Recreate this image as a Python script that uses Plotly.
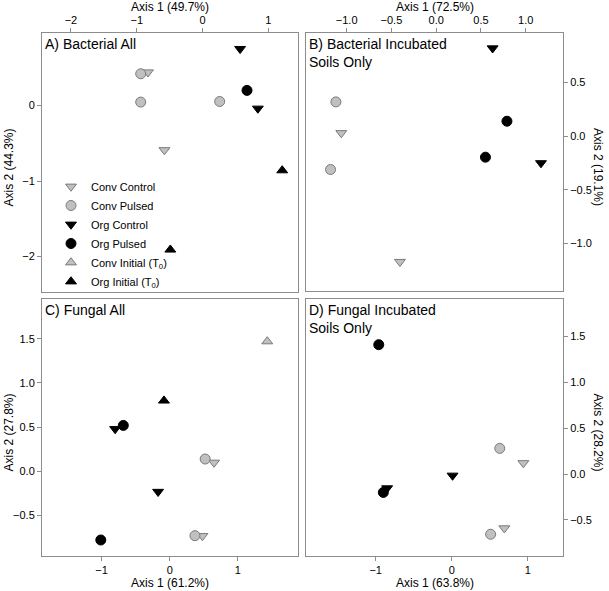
import plotly.graph_objects as go

W, H = 609, 591
FONT = "Arial, Liberation Sans, sans-serif"

# ---------------- data ----------------
# Panel A: Bacterial All
A_conv_control_x = [-0.83, -0.58]
A_conv_control_y = [0.44, -0.59]
A_conv_pulsed_x = [-0.94, -0.94, 0.26]
A_conv_pulsed_y = [0.42, 0.045, 0.053]
A_org_control_x = [0.57, 0.84]
A_org_control_y = [0.75, -0.04]
A_org_pulsed_x = [0.675]
A_org_pulsed_y = [0.20]
A_conv_initial_x = []
A_conv_initial_y = []
A_org_initial_x = [1.21, -0.49]
A_org_initial_y = [-0.86, -1.91]

# Panel B: Bacterial Incubated Soils Only
B_conv_control_x = [-1.06, -0.405]
B_conv_control_y = [0.03, -1.17]
B_conv_pulsed_x = [-1.12, -1.18]
B_conv_pulsed_y = [0.32, -0.31]
B_org_control_x = [0.63, 1.17]
B_org_control_y = [0.82, -0.25]
B_org_pulsed_x = [0.79, 0.55]
B_org_pulsed_y = [0.14, -0.195]

# Panel C: Fungal All
C_conv_control_x = [0.65, 0.48]
C_conv_control_y = [0.10, -0.73]
C_conv_pulsed_x = [0.52, 0.37]
C_conv_pulsed_y = [0.14, -0.727]
C_org_control_x = [-0.80, -0.17]
C_org_control_y = [0.48, -0.23]
C_org_pulsed_x = [-0.68, -1.01]
C_org_pulsed_y = [0.52, -0.776]
C_conv_initial_x = [1.43]
C_conv_initial_y = [1.47]
C_org_initial_x = [-0.084]
C_org_initial_y = [0.80]

# Panel D: Fungal Incubated Soils Only
D_conv_control_x = [0.94, 0.69]
D_conv_control_y = [0.12, -0.59]
D_conv_pulsed_x = [0.63, 0.51]
D_conv_pulsed_y = [0.28, -0.656]
D_org_control_x = [0.01, -0.85]
D_org_control_y = [-0.016, -0.154]
D_org_pulsed_x = [-0.96, -0.90]
D_org_pulsed_y = [1.41, -0.20]

group_names = ["Conv Control", "Conv Pulsed", "Org Control", "Org Pulsed",
               "Conv Initial (T<sub>0</sub>)", "Org Initial (T<sub>0</sub>)"]

panel_titles = ["A) Bacterial All", "B) Bacterial Incubated<br>Soils Only",
                "C) Fungal All", "D) Fungal Incubated<br>Soils Only"]
axis1_titles = ["Axis 1 (49.7%)", "Axis 1 (72.5%)", "Axis 1 (61.2%)", "Axis 1 (63.8%)"]
axis2_titles = ["Axis 2 (44.3%)", "Axis 2 (19.1%)", "Axis 2 (27.8%)", "Axis 2 (28.2%)"]

A_xticks = [-2, -1, 0, 1]
A_yticks = [-2, -1, 0]
B_xticks = [-1.0, -0.5, 0.0, 0.5, 1.0]
B_yticks = [-1.0, -0.5, 0.0, 0.5]
C_xticks = [-1, 0, 1]
C_yticks = [-0.5, 0.0, 0.5, 1.0, 1.5]
D_xticks = [-1, 0, 1]
D_yticks = [-0.5, 0.0, 0.5, 1.0, 1.5]

# ---------------- styles ----------------
GRAY_FILL = "#c0c0c0"
GRAY_LINE = "#7a7a7a"
styles = [
    dict(symbol="triangle-down", color=GRAY_FILL, line=dict(color=GRAY_LINE, width=1)),
    dict(symbol="circle", color=GRAY_FILL, line=dict(color=GRAY_LINE, width=1)),
    dict(symbol="triangle-down", color="black", line=dict(color="black", width=1)),
    dict(symbol="circle", color="black", line=dict(color="black", width=1)),
    dict(symbol="triangle-up", color=GRAY_FILL, line=dict(color=GRAY_LINE, width=1)),
    dict(symbol="triangle-up", color="black", line=dict(color="black", width=1)),
]

panels = [
    dict(data=[(A_conv_control_x, A_conv_control_y), (A_conv_pulsed_x, A_conv_pulsed_y),
               (A_org_control_x, A_org_control_y), (A_org_pulsed_x, A_org_pulsed_y),
               (A_conv_initial_x, A_conv_initial_y), (A_org_initial_x, A_org_initial_y)],
         xr=[-2.44, 1.45], yr=[-2.47, 0.96], xt=A_xticks, yt=A_yticks, xf="d", yf="d",
         xs="top", ys="left", px=(42, 298), py=(33, 292)),
    dict(data=[(B_conv_control_x, B_conv_control_y), (B_conv_pulsed_x, B_conv_pulsed_y),
               (B_org_control_x, B_org_control_y), (B_org_pulsed_x, B_org_pulsed_y),
               ([], []), ([], [])],
         xr=[-1.454, 1.416], yr=[-1.442, 0.962], xt=B_xticks, yt=B_yticks, xf=".1f", yf=".1f",
         xs="top", ys="right", px=(306, 563), py=(33, 291)),
    dict(data=[(C_conv_control_x, C_conv_control_y), (C_conv_pulsed_x, C_conv_pulsed_y),
               (C_org_control_x, C_org_control_y), (C_org_pulsed_x, C_org_pulsed_y),
               (C_conv_initial_x, C_conv_initial_y), (C_org_initial_x, C_org_initial_y)],
         xr=[-1.872, 1.881], yr=[-0.957, 1.95], xt=C_xticks, yt=C_yticks, xf="d", yf=".1f",
         xs="bottom", ys="left", px=(42, 298), py=(299, 556)),
    dict(data=[(D_conv_control_x, D_conv_control_y), (D_conv_pulsed_x, D_conv_pulsed_y),
               (D_org_control_x, D_org_control_y), (D_org_pulsed_x, D_org_pulsed_y),
               ([], []), ([], [])],
         xr=[-1.916, 1.461], yr=[-0.893, 1.908], xt=D_xticks, yt=D_yticks, xf="d", yf=".1f",
         xs="bottom", ys="right", px=(306, 563), py=(299, 556)),
]

fig = go.Figure()
annotations = []
layout = {}
shown = set()

for i, p in enumerate(panels):
    n = "" if i == 0 else str(i + 1)
    xa, ya = "x" + n, "y" + n
    for g, (xs, ys) in enumerate(p["data"]):
        if len(xs) == 0:
            continue
        showleg = g not in shown
        shown.add(g)
        fig.add_trace(go.Scatter(
            x=xs, y=ys, mode="markers", name=group_names[g], legendgroup=str(g),
            legendrank=100 + g,
            marker=dict(size=10 if styles[g]["symbol"] == "circle" else 9.5, **styles[g]),
            xaxis=xa, yaxis=ya, showlegend=showleg,
        ))
    x0, x1 = p["px"]
    y0, y1 = p["py"]
    common = dict(showline=True, mirror=True, linecolor="#8c8c8c", linewidth=1,
                  showgrid=False, zeroline=False, ticks="outside", ticklen=4,
                  tickcolor="#8c8c8c", tickwidth=1, automargin=False,
                  tickfont=dict(family=FONT, size=11, color="black"))
    layout["xaxis" + n] = dict(domain=[x0 / W, x1 / W], range=p["xr"], anchor=ya,
                               side=p["xs"], tickvals=p["xt"], tickformat=p["xf"], **common)
    layout["yaxis" + n] = dict(domain=[1 - y1 / H, 1 - y0 / H], range=p["yr"], anchor=xa,
                               side=p["ys"], tickvals=p["yt"], tickformat=p["yf"], **common)
    # panel title
    annotations.append(dict(text=panel_titles[i], xref="paper", yref="paper",
                            x=(x0 + 1) / W, y=1 - (y0 + 1) / H, xanchor="left", yanchor="top",
                            align="left", showarrow=False,
                            font=dict(family=FONT, size=14, color="black")))
    # axis 1 title
    cx = (x0 + x1) / 2
    ty = 7 if p["xs"] == "top" else 583
    annotations.append(dict(text=axis1_titles[i], xref="paper", yref="paper",
                            x=cx / W, y=1 - ty / H, xanchor="center", yanchor="middle",
                            showarrow=False, font=dict(family=FONT, size=12, color="black")))
    # axis 2 title
    cy = (y0 + y1) / 2 + 5
    if p["ys"] == "left":
        annotations.append(dict(text=axis2_titles[i], xref="paper", yref="paper",
                                x=8 / W, y=1 - cy / H, xanchor="center", yanchor="middle",
                                textangle=-90, showarrow=False,
                                font=dict(family=FONT, size=12, color="black")))
    else:
        annotations.append(dict(text=axis2_titles[i], xref="paper", yref="paper",
                                x=598 / W, y=1 - cy / H, xanchor="center", yanchor="middle",
                                textangle=90, showarrow=False,
                                font=dict(family=FONT, size=12, color="black")))

fig.update_layout(
    width=W, height=H, margin=dict(l=0, r=0, t=0, b=0),
    plot_bgcolor="white", paper_bgcolor="white",
    annotations=annotations,
    legend=dict(x=51 / W, y=1 - 172 / H, xanchor="left", yanchor="top",
                bgcolor="rgba(0,0,0,0)", font=dict(family=FONT, size=11, color="black"),
                tracegroupgap=0, itemsizing="trace"),
    **layout,
)

fig.write_html("out.html", config={"displayModeBar": False},
               post_script="document.body.style.margin='0';document.body.style.padding='0';"
                           "document.documentElement.style.overflow='hidden';")
